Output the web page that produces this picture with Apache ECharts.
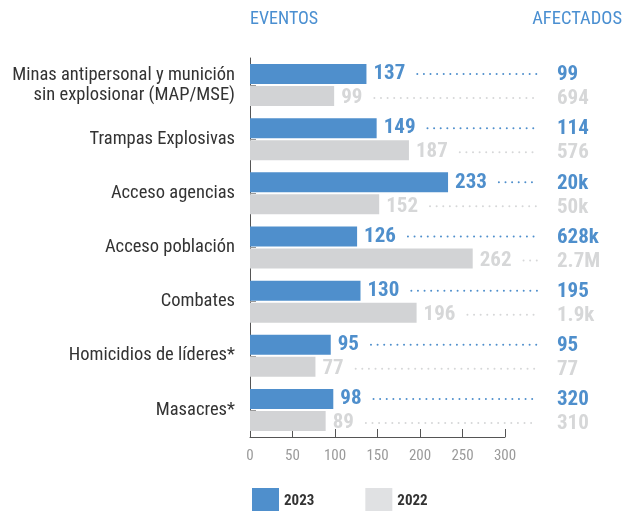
<!DOCTYPE html>
<html>
<head>
<meta charset="utf-8">
<script src="https://cdn.jsdelivr.net/npm/echarts@6/dist/echarts.min.js"></script>
<style>
html,body{margin:0;padding:0;background:#fff;}
#chart{width:635px;height:511px;}
</style>
</head>
<body>
<div id="chart"></div>
<script>
const categories = [
  'Minas antipersonal y munición\nsin explosionar (MAP/MSE)',
  'Trampas Explosivas',
  'Acceso agencias',
  'Acceso población',
  'Combates',
  'Homicidios de líderes*',
  'Masacres*'
];
const eventos2023 = [137, 149, 233, 126, 130, 95, 98];
const eventos2022 = [99, 187, 152, 262, 196, 77, 89];
const afectados2023 = ['99', '114', '20k', '628k', '195', '95', '320'];
const afectados2022 = ['694', '576', '50k', '2.7M', '1.9k', '77', '310'];
const xTicks = { min: 0, max: 300, interval: 50 };

const BLUE = '#4f8fcc';
const GRAY = '#d2d3d5';
const GRAY_TXT = '#d6d7d8';
const NARROW = '"Liberation Sans Narrow", "Roboto Condensed", Roboto';
const VALUE_FONT = 'bold 21px ' + NARROW;

const cv = document.createElement('canvas').getContext('2d');
function textWidth(t) { cv.font = VALUE_FONT; return cv.measureText(t).width; }

function makeConnector(afect, offset, color) {
  return function (params, api) {
    const i = params.dataIndex;
    const val = api.value(0);
    const cat = api.value(1);
    const p = api.coord([val, cat]);
    const y = p[1] + offset;
    const x0 = p[0] + 7 + textWidth(String(val)) + 12;
    const right = api.coord([xTicks.max, cat])[0];
    const x1 = right + 32;
    const children = [];
    if (x1 > x0) {
      children.push({
        type: 'line',
        shape: { x1: x0, y1: y, x2: x1, y2: y },
        style: { stroke: color, lineWidth: 2, lineDash: [0.01, 6.6], lineCap: 'round' }
      });
    }
    children.push({
      type: 'text',
      style: {
        text: afect[i], x: x1 + 20, y: y + 1,
        fill: color, font: VALUE_FONT, align: 'left', verticalAlign: 'middle'
      }
    });
    return { type: 'group', children: children };
  };
}

const chart = echarts.init(document.getElementById('chart'));
chart.setOption({
  animation: false,
  textStyle: { fontFamily: NARROW },
  grid: { left: 250, right: 130, top: 58, bottom: 74, containLabel: false },
  xAxis: {
    type: 'value', min: xTicks.min, max: xTicks.max, interval: xTicks.interval,
    splitLine: { show: false },
    axisLine: { show: true, lineStyle: { color: '#555', width: 1 } },
    axisTick: { show: true, inside: true, length: 8, lineStyle: { color: '#555' } },
    axisLabel: { color: '#9a9a9a', fontSize: 15, margin: 12, fontFamily: NARROW }
  },
  yAxis: {
    type: 'category', data: categories, inverse: true,
    axisLine: { show: true, lineStyle: { color: '#555', width: 1 } },
    axisTick: { show: true, inside: true, alignWithLabel: true, length: 6, lineStyle: { color: '#999' } },
    axisLabel: { color: '#333', fontSize: 18.5, margin: 15, lineHeight: 20, align: 'right', fontFamily: NARROW }
  },
  legend: {
    data: [
      { name: '2023', itemStyle: { color: BLUE } },
      { name: '2022', itemStyle: { color: '#e0e1e3' } }
    ],
    left: 247, top: 483, itemWidth: 27, itemHeight: 26, itemGap: 51,
    icon: 'rect', selectedMode: false,
    textStyle: { fontSize: 15, fontWeight: 'bold', color: '#333', fontFamily: NARROW }
  },
  graphic: [
    { type: 'text', left: 250, top: 10, style: { text: 'EVENTOS', fill: '#4a8fd1', font: '18px ' + NARROW } },
    { type: 'text', right: 13, top: 10, style: { text: 'AFECTADOS', fill: '#4a8fd1', font: '18.5px ' + NARROW } }
  ],
  series: [
    {
      name: '2023', type: 'bar', data: eventos2023, barWidth: 20, barGap: '10%',
      itemStyle: { color: BLUE },
      label: { show: true, position: 'right', distance: 7, color: BLUE, fontSize: 21, fontWeight: 'bold', fontFamily: NARROW }
    },
    {
      name: '2022', type: 'bar', data: eventos2022, barWidth: 20, barGap: '10%',
      itemStyle: { color: GRAY },
      label: { show: true, position: 'right', distance: 7, color: GRAY_TXT, fontSize: 21, fontWeight: 'bold', fontFamily: NARROW, offset: [0, 2] }
    },
    {
      name: 'c2023', type: 'custom', clip: false, silent: true,
      data: eventos2023.map((v, i) => [v, i]),
      encode: { x: 0, y: 1 },
      renderItem: makeConnector(afectados2023, -11, BLUE)
    },
    {
      name: 'c2022', type: 'custom', clip: false, silent: true,
      data: eventos2022.map((v, i) => [v, i]),
      encode: { x: 0, y: 1 },
      renderItem: makeConnector(afectados2022, 13, GRAY_TXT)
    }
  ]
});
</script>
</body>
</html>
